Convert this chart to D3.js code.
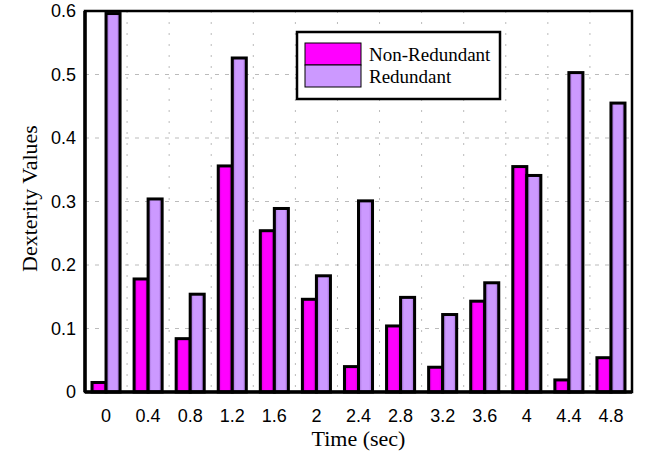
<!DOCTYPE html>
<html>
<head>
<meta charset="utf-8">
<script src="https://cdn.jsdelivr.net/npm/d3@7"></script>
<style>
  html, body { margin: 0; padding: 0; background: #fff; }
  svg { display: block; }
</style>
</head>
<body>
<svg id="chart" width="647" height="454"></svg>
<script>
// Sample times (sec) used as category labels
const times = ["0", "0.4", "0.8", "1.2", "1.6", "2", "2.4", "2.8", "3.2", "3.6", "4", "4.4", "4.8"];
// Dexterity values per configuration
const nonRedundant = [0.015, 0.178, 0.084, 0.356, 0.254, 0.146, 0.040, 0.104, 0.039, 0.143, 0.355, 0.019, 0.054];
const redundant    = [0.596, 0.304, 0.154, 0.526, 0.289, 0.183, 0.301, 0.149, 0.122, 0.172, 0.341, 0.503, 0.455];
const seriesNames = ["Non-Redundant", "Redundant"];
const yTicks = [0, 0.1, 0.2, 0.3, 0.4, 0.5, 0.6];

const svg = d3.select("#chart");
const margin = { left: 85, top: 11, right: 15, bottom: 62 };
const W = 647, H = 454;
const plotW = W - margin.left - margin.right;
const plotH = H - margin.top - margin.bottom;

const sans = "Liberation Sans, Arial, sans-serif";
const serif = "Liberation Serif, Times New Roman, serif";

const x = d3.scaleBand().domain(times).range([0, plotW]).padding(0);
const y = d3.scaleLinear().domain([0, 0.6]).range([plotH, 0]);
const inner = d3.scaleBand().domain(seriesNames).range([0, x.bandwidth()]).paddingOuter(0.5).paddingInner(0);

// Gradients give the bars their shaded look
const defs = svg.append("defs");
function shade(id, edge, mid) {
  const g = defs.append("linearGradient").attr("id", id).attr("x1", "0%").attr("x2", "100%");
  g.append("stop").attr("offset", "0%").attr("stop-color", edge);
  g.append("stop").attr("offset", "25%").attr("stop-color", mid);
  g.append("stop").attr("offset", "75%").attr("stop-color", mid);
  g.append("stop").attr("offset", "100%").attr("stop-color", edge);
}
shade("gradPink", "#cc00cc", "#ff00ff");
shade("gradPurple", "#9966cc", "#cc99ff");
const fills = { "Non-Redundant": "url(#gradPink)", "Redundant": "url(#gradPurple)" };
const flat = { "Non-Redundant": "#ff00ff", "Redundant": "#cc99ff" };

const g = svg.append("g").attr("transform", `translate(${margin.left},${margin.top})`);

// Grid: dashed horizontals at y ticks, dotted verticals at band boundaries
g.append("g").selectAll("line").data(yTicks.slice(1, -1)).join("line")
  .attr("x1", 0).attr("x2", plotW)
  .attr("y1", d => y(d)).attr("y2", d => y(d))
  .attr("stroke", "#bbbbbb").attr("stroke-width", 1).attr("stroke-dasharray", "4,6");
g.append("g").selectAll("line").data(times.slice(1)).join("line")
  .attr("x1", d => x(d)).attr("x2", d => x(d))
  .attr("y1", 0).attr("y2", plotH)
  .attr("stroke", "#bbbbbb").attr("stroke-width", 1).attr("stroke-dasharray", "2,9");

// Bars
const rows = times.map((t, i) => ({ t, vals: [
  { s: "Non-Redundant", v: nonRedundant[i] },
  { s: "Redundant", v: redundant[i] }
]}));
const grp = g.append("g").selectAll("g").data(rows).join("g")
  .attr("transform", d => `translate(${x(d.t)},0)`);
grp.selectAll("rect").data(d => d.vals).join("rect")
  .attr("x", d => inner(d.s))
  .attr("width", inner.bandwidth())
  .attr("y", d => y(d.v))
  .attr("height", d => y(0) - y(d.v))
  .attr("fill", d => fills[d.s])
  .attr("stroke", "#000").attr("stroke-width", 3);

// Frame
g.append("rect").attr("x", 0).attr("y", 0).attr("width", plotW).attr("height", plotH)
  .attr("fill", "none").attr("stroke", "#000").attr("stroke-width", 2.5);
g.append("line").attr("x1", 0).attr("x2", 0).attr("y1", 0).attr("y2", plotH)
  .attr("stroke", "#000").attr("stroke-width", 3.5);
g.append("line").attr("x1", 0).attr("x2", plotW).attr("y1", plotH).attr("y2", plotH)
  .attr("stroke", "#000").attr("stroke-width", 3.5);

// Axes (labels only; the frame draws the lines)
const yAxis = g.append("g").call(d3.axisLeft(y).tickValues(yTicks).tickSize(0).tickPadding(9).tickFormat(d3.format("~g")));
yAxis.select(".domain").remove();
yAxis.selectAll("text").attr("font-family", sans).attr("font-size", 18).attr("fill", "#000");

const xAxis = g.append("g").attr("transform", `translate(0,${plotH})`)
  .call(d3.axisBottom(x).tickSize(0).tickPadding(17));
xAxis.select(".domain").remove();
xAxis.selectAll("text").attr("font-family", sans).attr("font-size", 18).attr("fill", "#000");

// Axis titles
svg.append("text").attr("x", margin.left + plotW / 2).attr("y", 446)
  .attr("text-anchor", "middle").attr("font-family", serif)
  .attr("font-size", 22).text("Time (sec)");
svg.append("text").attr("transform", `translate(37,${margin.top + plotH / 2 - 3}) rotate(-90)`)
  .attr("text-anchor", "middle").attr("font-family", serif)
  .attr("font-size", 22).text("Dexterity Values");

// Legend
const lg = svg.append("g").attr("transform", "translate(297,32)");
lg.append("rect").attr("width", 203).attr("height", 67)
  .attr("fill", "#fff").attr("stroke", "#000").attr("stroke-width", 2.5);
seriesNames.forEach((s, i) => {
  lg.append("rect").attr("x", 8).attr("y", 11 + i * 22).attr("width", 56).attr("height", 22)
    .attr("fill", flat[s]).attr("stroke", "#000").attr("stroke-width", 1);
  lg.append("text").attr("x", 72).attr("y", 29 + i * 21.5)
    .attr("font-family", serif).attr("font-size", 19)
    .text(s);
});
</script>
</body>
</html>
